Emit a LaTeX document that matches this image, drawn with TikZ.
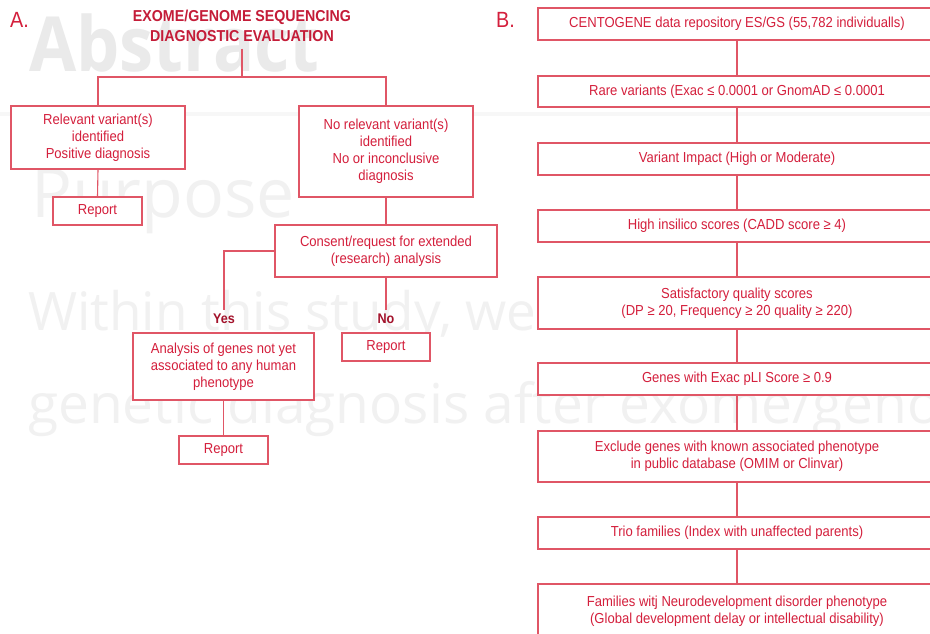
\documentclass[tikz,border=0pt]{standalone}
\usepackage{fontspec}
\setmainfont{Liberation Sans}[FakeStretch=0.9]
\newfontfamily\markfont{Open Sans}
\newfontfamily\marknarrow{Open Sans}[FakeStretch=0.9]
\definecolor{txtred}{HTML}{D41F3C}
\definecolor{headred}{HTML}{C41C38}
\definecolor{lblred}{HTML}{A3122B}
\definecolor{edgered}{HTML}{E05666}
\definecolor{markgray}{HTML}{EAEAEA}
\definecolor{markpale}{HTML}{F1F1F1}
\definecolor{bandgray}{HTML}{F7F7F7}

\begin{document}
\begin{tikzpicture}[x=1pt,y=-1pt,
  box/.style={draw=edgered, fill=white, line width=1.1pt, text=txtred,
    align=center, inner sep=0pt, font=\fontsize{14.5}{17}\selectfont},
  link/.style={draw=edgered, line width=1.1pt},
  heading/.style={text=headred, align=center, inner sep=1pt,
    font=\fontsize{15.8}{20}\selectfont\bfseries},
  branch/.style={text=lblred, inner sep=3pt, font=\fontsize{14}{16}\selectfont\bfseries},
  panel/.style={text=txtred, inner sep=0pt, anchor=base west,
    font=\fontsize{22}{22}\selectfont},
  ghost/.style={inner sep=0pt, anchor=base west}
]
\useasboundingbox (0,0) rectangle (930,634);
\clip (0,0) rectangle (930,634);
\fill[white] (0,0) rectangle (930,634);

% faint page text underneath the chart
\node[ghost, text=markgray, font=\marknarrow\fontsize{76}{76}\selectfont\bfseries] (wAbs) at (29,72) {Abstract};
\fill[bandgray] (0,112.5) rectangle (930,116.5);
\node[ghost, text=markpale, font=\markfont\fontsize{68}{68}\selectfont] (wPur) at (31,217) {Purpose};
\node[ghost, text=markpale, font=\markfont\fontsize{53}{53}\selectfont] (wWit) at (28,330) {Within this study, we};
\node[ghost, text=markpale, font=\markfont\fontsize{55}{55}\selectfont] (wGen) at (28,423) {genetic diagnosis after exome/genome};

% ---------------- panel A ----------------
\node[panel] (labA) at (10,28) {A.};
\node[heading] (title) at (242,25.5) {EXOME/GENOME SEQUENCING\\DIAGNOSTIC EVALUATION};

\node[box, minimum width=174pt, minimum height=63pt] (rel) at (98,137.5)
  {Relevant variant(s)\\identified\\Positive diagnosis};
\node[box, minimum width=174pt, minimum height=91pt] (norel) at (386,151.5)
  {No relevant variant(s)\\identified\\No or inconclusive\\diagnosis};
\node[box, minimum width=89pt, minimum height=28pt] (repA) at (97.5,211) {Report};
\node[box, minimum width=222pt, minimum height=52pt] (consent) at (386,251)
  {Consent/request for extended\\(research) analysis};
\node[branch, anchor=base] (yes) at (224,323) {Yes};
\node[branch, anchor=base] (no) at (386,323) {No};
\node[box, minimum width=181pt, minimum height=67pt] (analysis) at (223.5,366.5)
  {Analysis of genes not yet\\associated to any human\\phenotype};
\node[box, minimum width=88pt, minimum height=28pt] (repNo) at (386,347) {Report};
\node[box, minimum width=89pt, minimum height=28pt] (repYes) at (223.5,450) {Report};

\coordinate (split) at (242,77);
\draw[link] ([yshift=-6pt]title.south) -- (split);
\draw[link] (rel.north) -- (rel.north |- split) -- (norel.north |- split) -- (norel.north);
\draw[link] (rel.south) -- (repA.north);
\draw[link] (norel.south) -- (consent.north);
\draw[link] (consent.west) -- (yes.north |- consent.west) -- (yes.north);
\draw[link] (consent.south) -- (no.north);
\draw[link] (analysis.south) -- (repYes.north);

% ---------------- panel B ----------------
\node[panel] (labB) at (496,28) {B.};
\begin{scope}[every node/.append style={minimum width=398pt}]
\node[box, minimum height=32pt] (b1) at (737,24)
  {CENTOGENE data repository ES/GS (55,782 individualls)};
\node[box, minimum height=31pt] (b2) at (737,91.5)
  {Rare variants (Exac ≤ 0.0001 or GnomAD ≤ 0.0001};
\node[box, minimum height=32pt] (b3) at (737,159)
  {Variant Impact (High or Moderate)};
\node[box, minimum height=32pt] (b4) at (737,226)
  {High insilico scores (CADD score ≥ 4)};
\node[box, minimum height=52pt] (b5) at (737,303)
  {Satisfactory quality scores\\(DP ≥ 20, Frequency ≥ 20 quality ≥ 220)};
\node[box, minimum height=32pt] (b6) at (737,379)
  {Genes with Exac pLI Score ≥ 0.9};
\node[box, minimum height=51pt] (b7) at (737,456.5)
  {Exclude genes with known associated phenotype\\in public database (OMIM or Clinvar)};
\node[box, minimum height=32pt] (b8) at (737,533)
  {Trio families (Index with unaffected parents)};
\node[box, minimum height=54pt] (b9) at (737,611)
  {Families witj Neurodevelopment disorder phenotype\\(Global development delay or intellectual disability)};
\end{scope}
\foreach \a/\b in {b1/b2,b2/b3,b3/b4,b4/b5,b5/b6,b6/b7,b7/b8,b8/b9}
  \draw[link] (\a.south) -- (\b.north);
\end{tikzpicture}
\end{document}
